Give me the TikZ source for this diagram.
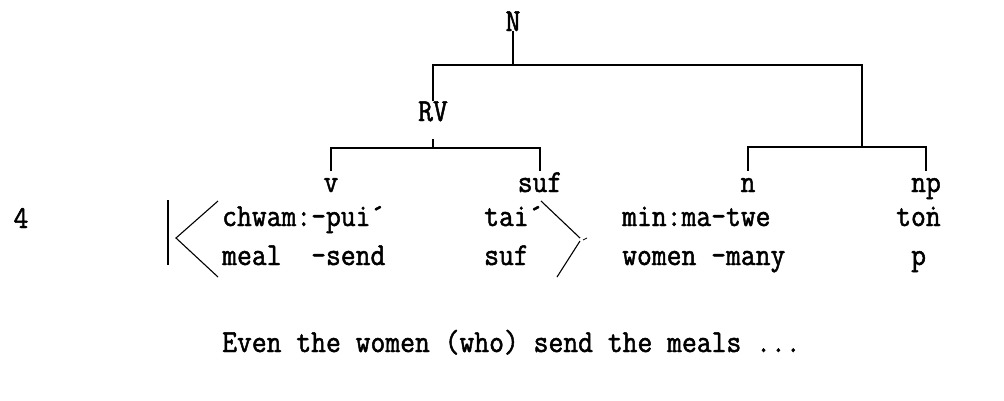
\documentclass[tikz,border=0pt]{standalone}
\usepackage{fontspec}
\usepackage{tikz}
\usetikzlibrary{calc,positioning}
\newfontfamily\typefont{Latin Modern Mono}[FakeBold=1.5, FakeStretch=0.9]

\begin{document}
\begin{tikzpicture}[x=1pt, y=-1pt,
    tt/.style={font=\typefont\fontsize{32}{32}\selectfont, inner sep=0pt, anchor=base},
    word/.style={tt, anchor=base west},
    branch/.style={line width=1.1pt},
    bracket/.style={line width=1.1pt, line join=miter}]
\useasboundingbox (0,0) rectangle (1004,400);

% tree labels
\node[tt] (N)   at (513,31)  {N};
\node[tt] (RV)  at (433,121) {RV};
\node[tt] (v)   at (331,192) {v};
\node[tt] (suf) at (540,192) {suf};
\node[tt] (n)   at (748,192) {n};
\node[tt] (np)  at (926,192) {np};

\coordinate (Nfork)  at (513,65);
\coordinate (RVfork) at (433,148);
\coordinate (nfork)  at (862,147);
\coordinate (tops)   at (0,171);

% branches
\draw[branch] (N) -- (Nfork);
\draw[branch] (RV) |- (Nfork) -| (nfork);
\draw[branch] (v |- tops) |- (RVfork) -| (suf |- tops);
\draw[branch] (RVfork) -- ++(0,-9);
\draw[branch] (n |- tops) |- (nfork) -| (np |- tops);

% example number and gloss lines
\node[tt] (num) at (21,228) {4};
\node[word] (w1) at (222,226) {chwam:-pui´};
\node[word] (w2) at (484,226) {tai´};
\node[word] (w3) at (622,226) {min:ma-twe};
\node[word] (w4) at (896,226) {to\accent"02D9 n};
\node[word] (g1) at (222,265) {meal\ \ -send};
\node[word] (g2) at (484,265) {suf};
\node[word] (g3) at (622,265) {women -many};
\node[word] (g4) at (911,265) {p};
\node[word] (tr) at (222,352) {Even the women (who) send the meals ...};

% bar and angle brackets round the verb
\draw[branch] (168,200) -- (168,265);
\draw[bracket] (218,201) -- (176,238) -- (218,277);
\draw[bracket] (541,201) -- (580,238);
\draw[bracket] (580,241) -- (557,277);
\draw[line width=0.8pt] (583,240) -- (587,238);
\end{tikzpicture}
\end{document}
